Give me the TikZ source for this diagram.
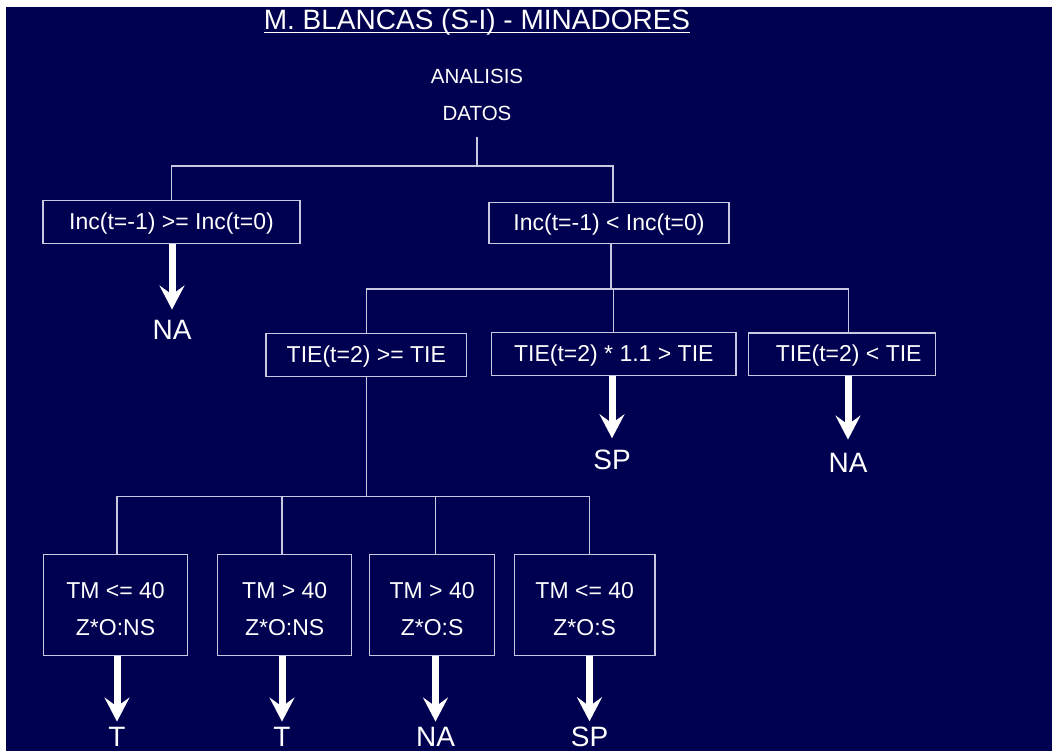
\documentclass[tikz,border=0pt]{standalone}
\usepackage{fontspec}
\setmainfont{Liberation Sans}
\usetikzlibrary{arrows.meta}
\definecolor{navy}{RGB}{0,0,80}
\definecolor{rulecol}{RGB}{200,200,225}
\newcommand{\toprow}{\rule{0pt}{24.5pt}}
\begin{document}
\begin{tikzpicture}[x=1pt,y=-1pt,
  link/.style={draw=rulecol, line width=1.2pt},
  cond/.style={draw=rulecol, line width=1.2pt, text=white, inner sep=0pt,
    font=\fontsize{23}{27}\selectfont, text height=19.5pt, text depth=4.6pt},
  leaf/.style={draw=rulecol, line width=1.2pt, text=white, inner sep=0pt, align=center,
    font=\fontsize{23}{36.7}\selectfont, minimum height=100.3pt},
  verdict/.style={text=white, inner sep=0pt, anchor=base, font=\fontsize{28}{32}\selectfont},
  heading/.style={text=white, inner sep=0pt, anchor=base},
  down/.style={white, line width=7pt, -{Stealth[length=24pt,width=25pt,inset=9pt]}, shorten >=10pt},
]
\useasboundingbox (0,0) rectangle (1052,751);
\fill[white] (0,0) rectangle (1052,751);
\fill[navy] (6,7) rectangle (1052,751);

% heading
\node[heading, font=\fontsize{28}{32}\selectfont] (title) at (477,30) {M. BLANCAS (S-I) - MINADORES};
\draw[white, line width=1.8pt] ([yshift=-2.5pt]title.base west) -- ([yshift=-2.5pt]title.base east);
\node[heading, font=\fontsize{20.5}{24}\selectfont] (ana) at (477,83.5) {ANALISIS};
\node[heading, font=\fontsize{20.5}{24}\selectfont] (datos) at (477,120.5) {DATOS};

% first level
\node[cond, minimum width=257pt, minimum height=42.3pt] (inc1) at (171.5,222) {Inc(t=-1) >= Inc(t=0)};
\node[cond, minimum width=240pt, minimum height=41pt] (inc2) at (609,222.8) {Inc(t=-1) < Inc(t=0)};

% second level
\node[cond, minimum width=200.7pt, minimum height=43.4pt] (tie1) at (366.3,355) {TIE(t=2) >= TIE};
\node[cond, minimum width=244.3pt, minimum height=42.6pt] (tie2) at (613.8,354) {TIE(t=2) * 1.1 > TIE};
\node[cond, minimum width=187pt, minimum height=42.6pt] (tie3) at (842.2,354.3) {\hspace*{13pt}TIE(t=2) < TIE};

% third level
\node[leaf, minimum width=144.4pt] (tm1) at (115.5,605) {\toprow TM <= 40\\Z*O:NS};
\node[leaf, minimum width=134pt] (tm2) at (284.7,605) {\toprow TM > 40\\Z*O:NS};
\node[leaf, minimum width=125.2pt] (tm3) at (432.1,605) {\toprow TM > 40\\Z*O:S};
\node[leaf, minimum width=140.7pt] (tm4) at (584.7,605) {\toprow TM <= 40\\Z*O:S};

% outcomes
\node[verdict] (na1) at (172,339) {NA};
\node[verdict] (sp1) at (612,469) {SP};
\node[verdict] (na2) at (848,472) {NA};
\node[verdict] (t1) at (117,746) {T};
\node[verdict] (t2) at (282,746) {T};
\node[verdict] (na3) at (435.5,746) {NA};
\node[verdict] (sp2) at (589.5,746) {SP};

% branching points
\coordinate (split0) at (477,166);
\coordinate (split1) at (611,289);
\coordinate (split2) at (365,496.7);

\draw[link] ([yshift=-16.5pt]datos.base) -- (split0);
\draw[link] (inc1.north) |- (split0);
\draw[link] ([xshift=4pt]inc2.north) |- (split0);

\draw[link] ([xshift=2pt]inc2.south) -- (split1);
\draw[link] (tie1.north) |- (split1);
\draw[link] (tie2.north) |- (split1);
\draw[link] ([xshift=6pt]tie3.north) |- (split1);

\draw[link] (tie1.south) -- (tie1.south |- split2);
\draw[link] (tm1.north -| t1.north) |- (split2);
\draw[link] (tm2.north -| t2.north) |- (split2);
\draw[link] (tm3.north -| na3.north) |- (split2);
\draw[link] (tm4.north -| sp2.north) |- (split2);

\draw[down] (inc1.south -| na1.north) -- (na1.north);
\draw[down, shorten >=11pt] (tie2.south -| sp1.north) -- (sp1.north);
\draw[down, shorten >=13pt] (tie3.south -| na2.north) -- (na2.north);
\draw[down, shorten >=5pt] (tm1.south -| t1.north) -- (t1.north);
\draw[down, shorten >=5pt] (tm2.south -| t2.north) -- (t2.north);
\draw[down, shorten >=5pt] (tm3.south -| na3.north) -- (na3.north);
\draw[down, shorten >=5pt] (tm4.south -| sp2.north) -- (sp2.north);
\end{tikzpicture}
\end{document}
